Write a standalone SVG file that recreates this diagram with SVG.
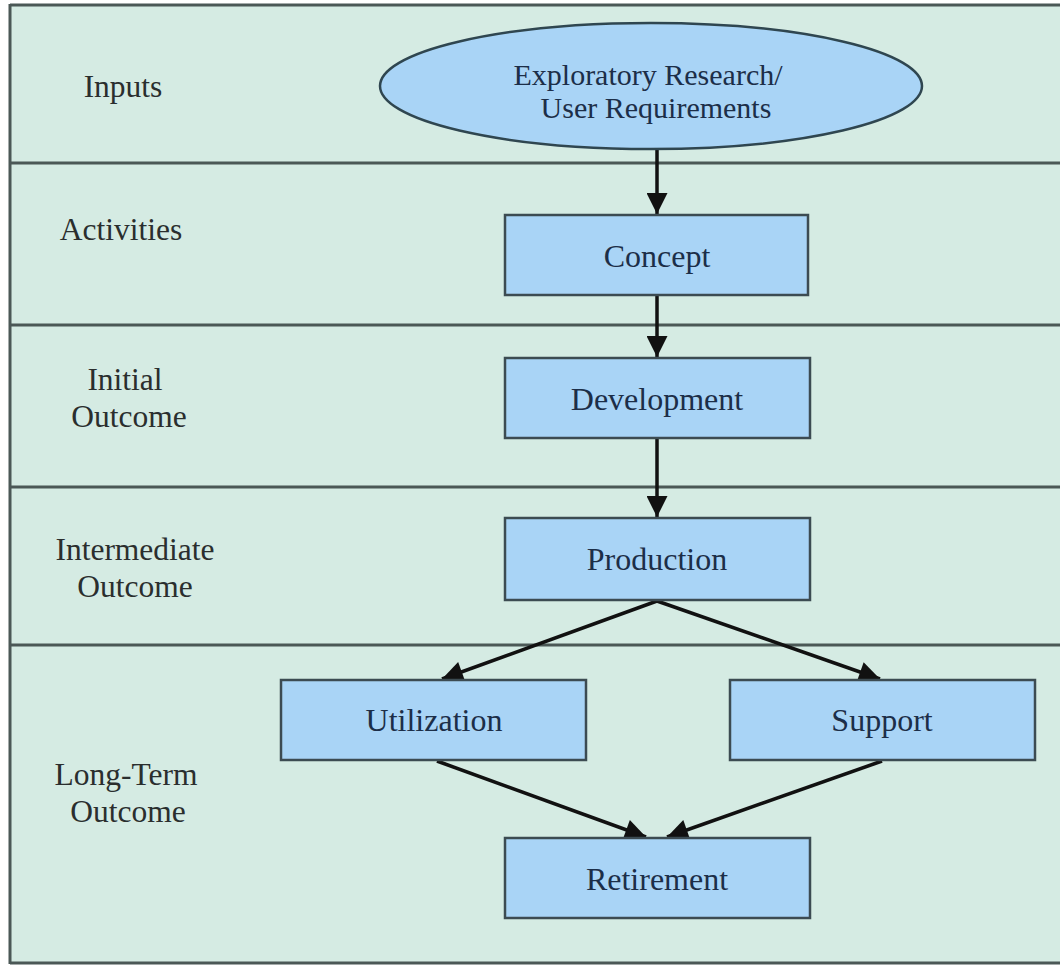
<svg xmlns="http://www.w3.org/2000/svg" width="1060" height="965" viewBox="0 0 1060 965">
<defs>
<marker id="ah" viewBox="0 0 10 10" refX="10" refY="5" markerWidth="7" markerHeight="6" markerUnits="strokeWidth" orient="auto">
<path d="M0,0 L10,5 L0,10 z" fill="#111"/>
</marker>
<style>
.lane{font-family:"Liberation Serif","Times New Roman",serif;font-size:31.5px;fill:#2a2e2e;text-anchor:middle}
.lbl{font-family:"Liberation Serif","Times New Roman",serif;font-size:32px;fill:#1c2e48;text-anchor:middle}
.ell{font-size:30px}
.box{fill:#a9d4f6;stroke:#3c4b52;stroke-width:2.5}
.sep{stroke:#4b5856;stroke-width:3}
.conn{stroke:#111;stroke-width:3.5;fill:none;marker-end:url(#ah)}
</style>
</defs>
<rect x="0" y="0" width="1060" height="965" fill="#ffffff"/>
<rect x="10" y="5" width="1060" height="958" fill="#d5ebe3"/>
<g id="lanes">
<line class="sep" x1="10" y1="5" x2="1060" y2="5"/>
<line class="sep" x1="10" y1="163" x2="1060" y2="163"/>
<line class="sep" x1="10" y1="325" x2="1060" y2="325"/>
<line class="sep" x1="10" y1="487" x2="1060" y2="487"/>
<line class="sep" x1="10" y1="645" x2="1060" y2="645"/>
<line class="sep" x1="10" y1="963" x2="1060" y2="963" stroke="#9aa8a4"/>
<line class="sep" x1="10" y1="4" x2="10" y2="964"/>
<text class="lane" x="123" y="97">Inputs</text>
<text class="lane" x="121" y="240">Activities</text>
<text class="lane" x="125" y="390">Initial</text>
<text class="lane" x="129" y="427">Outcome</text>
<text class="lane" x="135" y="560">Intermediate</text>
<text class="lane" x="135" y="597">Outcome</text>
<text class="lane" x="126" y="785">Long-Term</text>
<text class="lane" x="128" y="822">Outcome</text>
</g>
<g id="connectors">
<line class="conn" x1="657" y1="149" x2="657" y2="214"/>
<line class="conn" x1="657" y1="296" x2="657" y2="357"/>
<line class="conn" x1="657" y1="439" x2="657" y2="517"/>
<line class="conn" x1="657" y1="601" x2="442" y2="679"/>
<line class="conn" x1="657" y1="601" x2="880" y2="679"/>
<line class="conn" x1="437" y1="761" x2="646" y2="837"/>
<line class="conn" x1="882" y1="761" x2="667" y2="837"/>
</g>
<g id="n-inputs">
<ellipse cx="651" cy="86" rx="271" ry="63" fill="#a9d4f6" stroke="#2f4650" stroke-width="2.5"/>
<text class="lbl ell" x="648" y="85">Exploratory Research/</text>
<text class="lbl ell" x="656" y="118">User Requirements</text>
</g>
<g id="n-concept">
<rect class="box" x="505" y="215" width="303" height="80"/>
<text class="lbl" x="657" y="267">Concept</text>
</g>
<g id="n-development">
<rect class="box" x="505" y="358" width="305" height="80"/>
<text class="lbl" x="657" y="410">Development</text>
</g>
<g id="n-production">
<rect class="box" x="505" y="518" width="305" height="82"/>
<text class="lbl" x="657" y="570">Production</text>
</g>
<g id="n-utilization">
<rect class="box" x="281" y="680" width="305" height="80"/>
<text class="lbl" x="434" y="731">Utilization</text>
</g>
<g id="n-support">
<rect class="box" x="730" y="680" width="305" height="80"/>
<text class="lbl" x="882" y="731">Support</text>
</g>
<g id="n-retirement">
<rect class="box" x="505" y="838" width="305" height="80"/>
<text class="lbl" x="657" y="890">Retirement</text>
</g>
</svg>
